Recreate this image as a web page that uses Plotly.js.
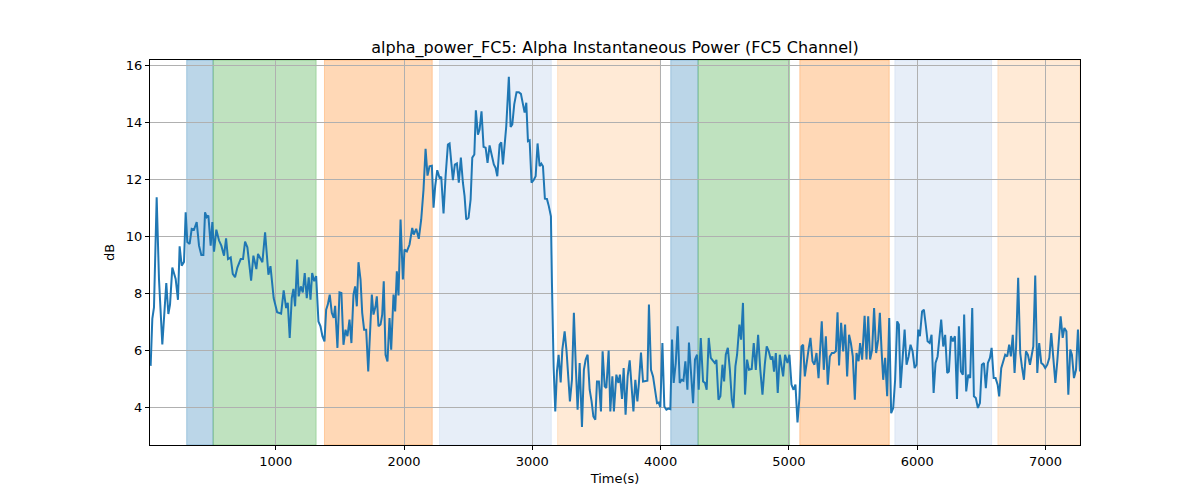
<!DOCTYPE html>
<html>
<head>
<meta charset="utf-8">
<script src="https://cdn.plot.ly/plotly-3.0.1.min.js"></script>
<style>
  html, body { margin: 0; padding: 0; background: #fff; }
  #chart { width: 1200px; height: 500px; }
</style>
</head>
<body>
<div id="chart"></div>
<script>
/* ─── alpha_power_FC5 trace, values ─── */

const timeSec = [
    25, 38, 51, 72, 90, 116, 147, 163, 176, 194, 220, 238, 251, 267, 285, 298, 311, 329, 345, 363,
    384, 402, 420, 436, 449, 462, 475, 493, 506, 519, 537, 558, 576, 597, 613, 628, 649, 665, 683, 701,
    727, 745, 761, 779, 792, 808, 826, 836, 849, 862, 883, 896, 917, 943, 959, 984, 1011, 1042, 1062, 1081,
    1094, 1109, 1125, 1138, 1151, 1167, 1179, 1195, 1211, 1226, 1242, 1257, 1271, 1284, 1300, 1315, 1333, 1349, 1364, 1380,
    1393, 1406, 1421, 1437, 1452, 1463, 1481, 1497, 1512, 1528, 1544, 1559, 1575, 1590, 1606, 1619, 1632, 1645, 1661, 1674,
    1689, 1705, 1721, 1736, 1749, 1762, 1778, 1788, 1801, 1817, 1830, 1842, 1856, 1871, 1887, 1900, 1918, 1931, 1944, 1957,
    1973, 1991, 2004, 2022, 2043, 2064, 2076, 2095, 2115, 2134, 2152, 2168, 2183, 2199, 2217, 2230, 2243, 2259, 2277, 2290,
    2308, 2324, 2342, 2355, 2370, 2381, 2396, 2412, 2427, 2443, 2459, 2472, 2485, 2503, 2519, 2532, 2548, 2560, 2576, 2589,
    2604, 2620, 2636, 2651, 2667, 2682, 2700, 2714, 2727, 2745, 2758, 2771, 2784, 2797, 2817, 2831, 2844, 2859, 2877, 2895,
    2911, 2927, 2940, 2953, 2966, 2979, 2994, 3012, 3026, 3041, 3057, 3070, 3083, 3098, 3114, 3129, 3145, 3153, 3166, 3179,
    3192, 3205, 3221, 3234, 3252, 3267, 3281, 3293, 3309, 3324, 3340, 3353, 3369, 3387, 3402, 3416, 3431, 3447, 3462, 3476,
    3491, 3504, 3519, 3535, 3548, 3564, 3577, 3595, 3608, 3624, 3636, 3655, 3671, 3683, 3699, 3712, 3727, 3743, 3759, 3772,
    3788, 3803, 3819, 3831, 3847, 3863, 3881, 3897, 3909, 3925, 3941, 3956, 3972, 3985, 3998, 4014, 4029, 4045, 4061, 4076,
    4089, 4102, 4118, 4133, 4149, 4164, 4178, 4193, 4209, 4221, 4237, 4253, 4268, 4284, 4297, 4313, 4331, 4346, 4359, 4375,
    4391, 4406, 4422, 4435, 4451, 4466, 4482, 4495, 4508, 4524, 4540, 4555, 4568, 4583, 4596, 4614, 4627, 4642, 4658, 4674,
    4689, 4710, 4726, 4742, 4760, 4777, 4794, 4812, 4827, 4843, 4859, 4872, 4884, 4898, 4913, 4929, 4942, 4955, 4970, 4989,
    5004, 5020, 5036, 5051, 5067, 5082, 5098, 5111, 5124, 5140, 5155, 5168, 5184, 5199, 5215, 5231, 5243, 5256, 5272, 5288,
    5303, 5319, 5335, 5350, 5366, 5379, 5391, 5407, 5423, 5438, 5454, 5469, 5483, 5498, 5514, 5527, 5543, 5555, 5571, 5590,
    5605, 5618, 5633, 5649, 5664, 5680, 5696, 5709, 5722, 5735, 5750, 5766, 5782, 5797, 5813, 5828, 5844, 5857, 5870, 5886,
    5902, 5917, 5933, 5948, 5964, 5980, 5995, 6008, 6021, 6038, 6052, 6068, 6081, 6097, 6112, 6128, 6143, 6159, 6171, 6187,
    6203, 6218, 6234, 6247, 6263, 6278, 6294, 6310, 6325, 6341, 6356, 6366, 6382, 6398, 6413, 6429, 6442, 6457, 6473, 6489,
    6504, 6520, 6535, 6551, 6567, 6580, 6596, 6611, 6627, 6639, 6655, 6671, 6686, 6702, 6717, 6730, 6745, 6759, 6771, 6787,
    6803, 6816, 6832, 6848, 6863, 6879, 6892, 6905, 6920, 6936, 6951, 6967, 6983, 6998, 7014, 7030, 7045, 7061, 7077, 7092,
    7105, 7118, 7134, 7147, 7163, 7178, 7193, 7206, 7222, 7238, 7253, 7269,
];

const alphaDb = [
    5.45, 7.1, 7.5, 11.37, 8.5, 6.2, 8.36, 7.27, 7.6, 8.9, 8.5, 7.77, 9.65, 8.97, 9.1, 10.84, 9.8, 9.73, 10.26, 10.23,
    10.5, 9.67, 9.34, 9.34, 10.84, 10.67, 10.73, 9.67, 10.5, 9.46, 10.23, 9.85, 9.67, 9.32, 9.93, 9.2, 9.26, 8.68, 8.56, 8.9,
    9.2, 9.2, 9.81, 9.61, 9.09, 8.44, 9.32, 9.09, 8.85, 9.38, 9.2, 9.09, 10.14, 8.65, 8.95, 7.83, 7.33, 7.28, 8.1, 7.48,
    7.66, 6.43, 7.83, 8.15, 7.54, 9.18, 7.89, 8.24, 8.03, 8.71, 7.83, 8.56, 7.77, 8.71, 8.42, 8.6, 7.01, 6.84, 6.49, 6.31,
    7.42, 7.6, 7.95, 7.31, 7.13, 7.56, 6.08, 8.03, 8.01, 6.19, 6.72, 6.49, 7.07, 6.25, 7.95, 8.24, 7.54, 9.09, 8.48, 7.31,
    6.72, 6.72, 5.25, 6.78, 7.95, 7.25, 7.54, 7.89, 6.84, 6.9, 7.25, 8.42, 5.84, 5.6, 7.13, 6.02, 7.95, 7.36, 8.77, 7.92,
    10.59, 8.48, 9.53, 9.47, 9.71, 10.29, 10.06, 10.26, 9.91, 10.59, 11.64, 13.07, 12.13, 12.46, 12.48, 11.0, 11.76, 12.32, 12.05, 12.09,
    10.8, 12.11, 13.22, 13.26, 12.58, 11.97, 12.52, 12.56, 11.88, 12.76, 11.88, 11.41, 10.59, 10.65, 11.29, 12.76, 12.87, 14.42, 13.57, 13.75,
    14.39, 13.14, 13.11, 12.58, 13.19, 12.93, 12.52, 12.4, 12.11, 13.22, 13.3, 12.52, 13.28, 13.87, 15.6, 13.84, 13.93, 14.63, 15.06, 15.06,
    15.0, 14.69, 14.34, 14.69, 13.34, 13.37, 11.88, 11.99, 12.11, 13.26, 12.46, 12.55, 12.46, 11.32, 11.31, 11.05, 10.7, 8.36, 5.43, 3.85,
    5.25, 5.84, 4.87, 6.02, 6.66, 5.96, 5.02, 4.2, 4.96, 7.31, 5.31, 3.91, 5.55, 3.3, 5.31, 5.67, 5.84, 4.61, 4.2, 3.67,
    3.56, 4.9, 4.9, 3.85, 5.96, 4.73, 4.67, 5.99, 3.85, 5.08, 3.85, 5.14, 4.85, 5.14, 4.29, 5.37, 3.73, 5.08, 5.64, 4.73,
    3.85, 4.96, 4.2, 4.85, 5.92, 4.9, 4.93, 4.93, 7.6, 5.31, 5.08, 4.61, 4.14, 4.16, 4.0, 6.25, 4.02, 3.91, 3.95, 3.93,
    6.37, 4.85, 5.55, 6.84, 4.85, 4.96, 4.93, 5.61, 4.61, 6.27, 5.02, 4.14, 5.67, 5.84, 4.61, 6.43, 4.9, 4.85, 4.61, 6.43,
    5.73, 5.66, 5.55, 5.66, 4.26, 4.38, 5.49, 4.9, 5.84, 6.08, 5.31, 4.26, 3.97, 5.43, 5.84, 6.9, 6.37, 7.66, 4.44, 5.67,
    5.31, 5.34, 6.25, 5.31, 6.54, 5.31, 4.44, 5.49, 6.13, 5.96, 5.67, 5.78, 5.25, 5.9, 4.5, 5.84, 5.49, 5.08, 5.84, 5.55,
    5.84, 4.79, 4.61, 4.79, 3.46, 4.32, 6.13, 6.19, 5.08, 5.67, 6.08, 6.43, 5.61, 5.49, 5.9, 5.02, 6.25, 7.01, 5.31, 6.49,
    4.79, 5.78, 5.9, 5.9, 5.96, 7.33, 5.46, 6.96, 5.96, 6.9, 5.08, 6.54, 6.25, 5.78, 4.26, 5.9, 5.61, 6.25, 5.67, 7.21,
    5.67, 7.19, 5.67, 6.02, 7.48, 5.9, 6.37, 7.31, 6.02, 4.96, 5.73, 4.38, 7.13, 3.79, 3.97, 4.96, 7.01, 6.9, 4.67, 5.73,
    6.72, 5.49, 5.78, 6.19, 5.96, 5.37, 5.49, 6.72, 6.49, 7.36, 7.42, 6.84, 6.31, 6.25, 6.54, 4.5, 5.55, 5.78, 6.25, 7.07,
    6.13, 6.54, 5.2, 5.25, 6.49, 6.31, 6.49, 4.29, 6.84, 5.25, 5.14, 7.25, 4.55, 5.14, 5.02, 7.48, 4.38, 4.32, 3.97, 4.14,
    5.49, 5.55, 4.67, 5.55, 5.73, 6.08, 5.02, 5.02, 4.79, 4.38, 5.37, 5.67, 5.84, 5.78, 6.19, 5.78, 6.54, 5.2, 6.13, 8.54,
    5.9, 5.43, 4.96, 5.96, 5.84, 5.49, 5.78, 6.13, 8.62, 5.2, 6.25, 5.55, 5.49, 5.37, 5.49, 5.73, 6.6, 5.55, 4.85, 5.61,
    6.43, 7.19, 6.43, 6.78, 6.66, 4.44, 6.02, 5.84, 5.02, 5.31, 6.72, 5.25,
];

// shaded phases (seconds) and which palette entry each one uses
const bandStart = [306, 512, 1380, 2277, 3197, 4079, 4292, 5085, 5826, 6629];
const bandEnd   = [512, 1315, 2220, 3148, 3998, 4292, 5005, 5782, 6580, 7269];
const bandKind  = ['blue', 'green', 'orange', 'paleblue', 'paleorange',
                   'blue', 'green', 'orange', 'paleblue', 'paleorange'];

const xTicks = [1000, 2000, 3000, 4000, 5000, 6000, 7000];
const yTicks = [4, 6, 8, 10, 12, 14, 16];

const BAND_COLORS = {
    blue: 'rgba(31,119,180,0.3)',
    green: 'rgba(44,160,44,0.3)',
    orange: 'rgba(255,127,14,0.3)',
    paleblue: 'rgba(174,199,232,0.3)',
    paleorange: 'rgba(255,187,120,0.3)',
};

const FONT = 'DejaVu Sans, Arial, sans-serif';

const shapes = bandStart.map((x0, i) => ({
    type: 'rect',
    xref: 'x', yref: 'paper',
    x0: x0, x1: bandEnd[i],
    y0: 0, y1: 1,
    fillcolor: BAND_COLORS[bandKind[i]],
    line: { width: 1, color: BAND_COLORS[bandKind[i]] },
    layer: 'below',
}));

const trace = {
    x: timeSec,
    y: alphaDb,
    type: 'scatter',
    mode: 'lines',
    line: { color: '#1f77b4', width: 2 },
    hoverinfo: 'skip',
};

const axisCommon = {
    showgrid: true,
    gridcolor: '#b0b0b0',
    gridwidth: 1,
    zeroline: false,
    showline: true,
    linecolor: '#000',
    linewidth: 1,
    mirror: true,
    ticks: 'outside',
    ticklen: 4,
    tickwidth: 1,
    tickcolor: '#000',
    tickfont: { family: FONT, size: 13, color: '#000' },
};

const layout = {
    width: 1200,
    height: 500,
    margin: { l: 150, r: 120, t: 60, b: 55 },
    paper_bgcolor: '#fff',
    plot_bgcolor: '#fff',
    showlegend: false,
    font: { family: FONT, color: '#000' },
    title: {
        text: 'alpha_power_FC5: Alpha Instantaneous Power (FC5 Channel)',
        font: { family: FONT, size: 16, color: '#000' },
        x: 0.5125, xanchor: 'center',
        y: 0.905, yanchor: 'middle',
    },
    xaxis: {
        ...axisCommon,
        range: [20, 7269],
        tickvals: xTicks,
        ticktext: xTicks.map(String),
        title: { text: 'Time(s)', font: { family: FONT, size: 13, color: '#000' }, standoff: 6 },
    },
    yaxis: {
        ...axisCommon,
        range: [2.67, 16.19],
        tickvals: yTicks,
        ticktext: yTicks.map(String),
        title: { text: 'dB', font: { family: FONT, size: 13, color: '#000' }, standoff: 8 },
    },
    shapes: shapes,
};

Plotly.newPlot('chart', [trace], layout, { staticPlot: true, displayModeBar: false });
</script>
</body>
</html>
